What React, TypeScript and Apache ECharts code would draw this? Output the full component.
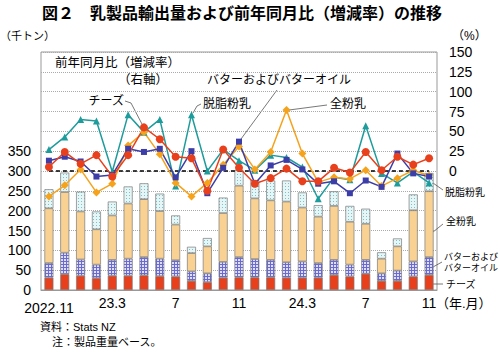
import React, { useEffect, useRef } from "react";
import * as echarts from "echarts";

const categories = ["2022.11","12","23.1","2","23.3","4","5","6","7","8","9","10","11","12","24.1","2","24.3","4","5","6","7","8","9","10","11"];
const cheeseVol = [31,40,36,30,36,36,37,35,34,23,20,31,32,32,32,31,31,31,38,34,41,23,23,34,38];
const butterVol = [37,54,41,34,40,43,46,44,41,24,22,40,51,46,44,39,41,37,38,30,35,19,26,38,45];
const wmpVol = [138,153,121,89,112,139,146,120,90,46,68,123,180,153,150,153,136,117,136,108,91,37,61,129,166];
const smpVol = [48,49,50,45,35,43,40,44,23,16,21,39,39,46,50,53,38,29,37,40,38,16,20,40,46];
const cheeseYoY = [5,24,9,20,-7,20,55,40,18,16,-25,27,4,-16,-9,3,-13,-13,4,-2,24,1,18,8,16];
const butterYoY = [13,18,12,-7,-5,28,24,28,-8,25,-28,4,37,-16,7,14,2,-16,-13,-28,-12,-20,22,-3,-7];
const wmpYoY = [-32,-18,2,-27,-16,32,49,21,-15,-32,-15,8,31,2,24,77,22,-14,-8,-10,1,-19,-9,1,-6];
const smpYoY = [27,43,65,63,-1,71,49,65,-19,71,0,27,13,1,20,17,5,-35,-8,-11,57,-3,-15,-1,-15];
const baseline = [0,0,0,0,0,0,0,0,0,0,0,0,0,0,0,0,0,0,0,0,0,0,0,0,0];

const FONT = "'Liberation Sans', 'Noto Sans CJK JP', sans-serif";

function makePattern(bg: string, fg: string, kind: string) {
  const c = document.createElement("canvas");
  const s = 3;
  c.width = s;
  c.height = s;
  const ctx = c.getContext("2d") as CanvasRenderingContext2D;
  ctx.fillStyle = bg;
  ctx.fillRect(0, 0, s, s);
  ctx.fillStyle = fg;
  if (kind === "grid") {
    ctx.fillRect(0, 0, s, 1);
    ctx.fillRect(0, 0, 1, s);
  } else {
    ctx.fillRect(0, 0, 1, 1);
  }
  return { image: c, repeat: "repeat", imageWidth: s, imageHeight: s } as any;
}

function txt(text: string, x: number, y: number, size: number, extra: any = {}) {
  return {
    type: "text",
    x,
    y,
    style: { text, fontSize: size, fontFamily: FONT, fill: "#000", verticalAlign: "middle", ...extra },
  };
}
function leader(points: number[][]) {
  return { type: "polyline", shape: { points }, style: { stroke: "#555", lineWidth: 0.8, fill: null } };
}

export default function App() {
  const ref = useRef<HTMLDivElement>(null);
  useEffect(() => {
    if (!ref.current) return;
    const chart = echarts.init(ref.current, null, { renderer: "svg" });
    const border = { borderColor: "#7a7a7a", borderWidth: 0.7 };
    const barBase = { type: "bar", stack: "vol", barWidth: 9, xAxisIndex: 0, yAxisIndex: 0, z: 2 };
    const lineBase = { type: "line", yAxisIndex: 1, z: 5 };
    chart.setOption({
      animation: false,
      textStyle: { fontFamily: FONT },
      grid: { left: 41, right: 63, top: 52, bottom: 62, show: true, borderColor: "#999", borderWidth: 1 },
      xAxis: {
        type: "category",
        data: categories,
        axisTick: { show: false },
        axisLine: { lineStyle: { color: "#999" } },
        axisLabel: {
          interval: 3,
          fontSize: 14,
          color: "#000",
          margin: 6,
          fontFamily: FONT,
          formatter: (v: string, i: number) => (i === 0 ? "{a|" + v + "}" : v),
          rich: { a: { fontSize: 14, fontFamily: FONT, color: "#000", padding: [5, 0, 0, 0] } },
        },
      },
      yAxis: [
        {
          type: "value",
          min: 0,
          max: 600,
          interval: 50,
          axisLine: { show: false },
          axisTick: { show: false },
          splitLine: { lineStyle: { type: "dotted", color: "#aaa", width: 1 } },
          axisLabel: { fontSize: 14, color: "#000", margin: 10, fontFamily: FONT, formatter: (v: number) => (v <= 350 ? String(v) : "") },
        },
        {
          type: "value",
          min: -150,
          max: 150,
          interval: 25,
          axisLine: { show: false },
          axisTick: { show: false },
          splitLine: { show: false },
          axisLabel: { fontSize: 14, color: "#000", margin: 12, fontFamily: FONT, formatter: (v: number) => (v >= 0 ? String(v) : "") },
        },
      ],
      series: [
        { ...barBase, name: "チーズ", data: cheeseVol, itemStyle: { color: "#e8401c", ...border } },
        { ...barBase, name: "バターおよびバターオイル", data: butterVol, itemStyle: { color: makePattern("#dedef6", "#6a6ad0", "grid"), ...border } },
        { ...barBase, name: "全粉乳", data: wmpVol, itemStyle: { color: "#f9d293", ...border } },
        { ...barBase, name: "脱脂粉乳", data: smpVol, itemStyle: { color: makePattern("#e6f6f6", "#7cc2ca", "dots"), ...border } },
        {
          type: "line", yAxisIndex: 1, z: 4, data: baseline, symbol: "none",
          lineStyle: { color: "#000", width: 1.6, type: [4, 3] },
        },
        { ...lineBase, name: "脱脂粉乳率", data: smpYoY, symbol: "triangle", symbolSize: 7, itemStyle: { color: "#1e9c9c" }, lineStyle: { width: 1.5, color: "#1e9c9c" } },
        { ...lineBase, name: "全粉乳率", data: wmpYoY, symbol: "diamond", symbolSize: 8, itemStyle: { color: "#f5a21c" }, lineStyle: { width: 1.5, color: "#f5a21c" } },
        { ...lineBase, name: "バター率", data: butterYoY, symbol: "rect", symbolSize: 6, itemStyle: { color: "#3d3da8" }, lineStyle: { width: 1.5, color: "#3d3da8" } },
        { ...lineBase, name: "チーズ率", data: cheeseYoY, symbol: "circle", symbolSize: 8, itemStyle: { color: "#e8401c" }, lineStyle: { width: 1.5, color: "#e8401c" } },
      ],
      graphic: [
        txt("図２　乳製品輸出量および前年同月比（増減率）の推移", 242, 13, 16, { fontWeight: "bold", align: "center" }),
        txt("（千トン）", 0, 36, 11),
        txt("（%）", 452, 36, 12),
        txt("（年.月）", 436, 303, 13),
        txt("資料：Stats NZ", 40, 327, 11),
        txt("注：製品重量ベース。", 52, 342, 11),
        txt("前年同月比（増減率）", 55, 63, 12.5),
        txt("（右軸）", 118, 80, 12.5),
        txt("チーズ", 124, 101, 12, { align: "right" }),
        leader([[125, 101], [131, 103], [143, 126]]),
        txt("脱脂粉乳", 203, 104, 12),
        leader([[201, 104], [197, 106], [193, 113]]),
        txt("バターおよびバターオイル", 207, 80, 12),
        leader([[277, 90], [241, 139]]),
        txt("全粉乳", 330, 104, 12),
        leader([[327, 105], [289, 110]]),
        txt("脱脂粉乳", 445, 192, 10),
        leader([[433, 183], [443, 190]]),
        txt("全粉乳", 446, 221, 10),
        leader([[433, 232], [443, 224]]),
        txt("バターおよび", 444, 257, 9),
        txt("バターオイル", 444, 268, 9),
        leader([[433, 267], [442, 262]]),
        txt("チーズ", 446, 284, 10),
        leader([[433, 284], [443, 284]]),
      ],
    } as any);
    return () => chart.dispose();
  }, []);
  return <div ref={ref} style={{ position: "absolute", left: 0, top: 0, width: 500, height: 352 }} />;
}
